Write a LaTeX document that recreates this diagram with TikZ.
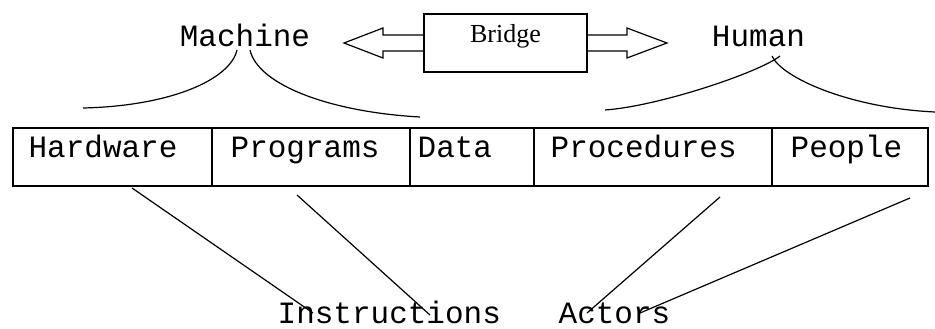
\documentclass[tikz,border=0pt]{standalone}
\usepackage{fontspec}
\newfontfamily\typewriter{Liberation Mono}
\newfontfamily\bridgeserif{Liberation Serif}
\begin{document}
\begin{tikzpicture}[x=1pt,y=-1pt,
  line width=1.3pt,
  lbl/.style={font=\typewriter\fontsize{31}{31}\selectfont, inner sep=0pt, anchor=base west},
  cell/.style={draw, minimum height=58pt, inner sep=0pt, outer sep=0pt},
  bridgebox/.style={draw, minimum width=163pt, minimum height=58pt, inner sep=0pt, outer sep=0pt},
  link/.style={line width=1.2pt}]
\useasboundingbox (0,0) rectangle (935,329);

% top labels
\node[lbl, anchor=base] (machine) at (245,47) {Machine};
\node[lbl, anchor=base] (human) at (758.5,47) {Human};

% bridge box with its two hollow arrows
\node[bridgebox] (br) at (505.5,43) {};
\node[font=\bridgeserif\fontsize{26}{26}\selectfont, inner sep=0pt, anchor=base] (brtxt) at (br.center) {Bridge};
\draw[line width=1.2pt] ([yshift=8pt]br.west) -- ++(-41,0) -- ++(0,-7) -- ++(-39,15)
  -- ++(39,15) -- ++(0,-7) -- ++(41,0);
\draw[line width=1.2pt] ([yshift=8pt]br.east) -- ++(40,0) -- ++(0,-7) -- ++(40,15)
  -- ++(-40,15) -- ++(0,-7) -- ++(-40,0);

% braces under the top labels
\coordinate (mL) at (83,108);
\coordinate (mR) at (420,117);
\coordinate (hL) at (605,110);
\coordinate (hR) at (935,112);
\draw[link] (237,50) .. controls (230,80) and (170,106) .. (mL);
\draw[link] (250,50) .. controls (258,85) and (330,112) .. (mR);
\draw[link] (780,56) .. controls (760,72) and (660,106) .. (hL);
\draw[link] (772,56) .. controls (782,78) and (850,108) .. (hR);

% the five components
\node[cell, minimum width=199pt] (hw) at (112.5,157) {};
\node[cell, minimum width=198pt] (pg) at (311,157) {};
\node[cell, minimum width=124pt] (da) at (472,157) {};
\node[cell, minimum width=238pt] (pr) at (653,157) {};
\node[cell, minimum width=156pt] (pe) at (850,157) {};
\node[lbl] (hwt) at (28,157) {Hardware};
\node[lbl] (pgt) at (230,157) {Programs};
\node[lbl] (dat) at (417,157) {Data};
\node[lbl] (prt) at (550,157) {Procedures};
\node[lbl] (pet) at (790,157) {People};

% bottom labels
\node[lbl] (instr) at (277,323) {Instructions};
\node[lbl] (actors) at (558,323) {Actors};

% connectors
\draw[link] ([shift={(19.5,2)}]hw.south) -- ([shift={(36,-10)}]instr.base west);
\draw[link] ([shift={(-14,9)}]pg.south) -- ([shift={(153,-8)}]instr.base west);
\draw[link] ([shift={(67,11)}]pr.south) -- ([shift={(29,-10)}]actors.base west);
\draw[link] ([shift={(60,12)}]pe.south) -- ([shift={(82,-10)}]actors.base west);
\end{tikzpicture}
\end{document}
